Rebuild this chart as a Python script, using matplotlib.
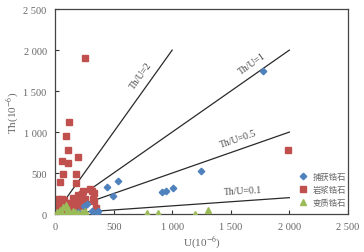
import matplotlib

matplotlib.use("Agg")
import matplotlib.pyplot as plt
from matplotlib.ticker import FuncFormatter

# 捕获锆石 (inherited zircon)
inh_u = [1779, 1245, 1009, 946, 909, 540, 441, 492, 250, 270, 313, 364, 355, 200, 150]
inh_th = [1740, 520, 317, 277, 264, 399, 325, 223, 100, 122, 40, 35, 10, 20, 10]

# 岩浆锆石 (magmatic zircon)
mag_u = [256, 116, 1984, 94, 110, 62, 113, 193, 68, 45, 176, 183, 298, 335, 335,
         350, 241, 313, 327, 227, 185, 156, 28, 57, 14, 128, 213, 256, 241, 71,
         30, 50, 80, 100, 130, 150, 170, 200, 210, 230, 180, 100, 60, 250, 140, 190]
mag_th = [1899, 1118, 780, 955, 780, 650, 622, 691, 488, 390, 488, 380, 305, 256, 162,
          73, 284, 284, 183, 244, 191, 143, 183, 143, 122, 82, 143, 183, 101, 20,
          60, 100, 170, 140, 90, 190, 150, 230, 120, 250, 60, 50, 180, 170, 40, 100]

# 变质锆石 (metamorphic zircon)
met_u = [1191, 1304, 782, 881, 20, 45, 70, 91, 110, 128, 150, 170, 200, 227, 256, 60, 100]
met_th = [5, 55, 10, 12, 30, 45, 80, 110, 60, 10, 35, 30, 15, 25, 40, 10, 20]

ratios = [2, 1, 0.5, 0.1]
ratio_u_end = [1000, 2000, 2000, 2000]
ratio_labels = ["Th/U=2", "Th/U=1", "Th/U=0.5", "Th/U=0.1"]
label_u = [730, 1680, 1560, 1600]
label_th = [1700, 1840, 920, 285]
label_rot = [54, 35, 19, 3]

legend_names = ["捕获锆石", "岩浆锆石", "变质锆石"]

plt.rcParams["font.family"] = ["Liberation Serif", "DejaVu Serif"]
plt.rcParams["mathtext.fontset"] = "stix"

fig = plt.figure(figsize=(3.64, 2.53), dpi=100)
ax = fig.add_axes([0.151, 0.150, 0.805, 0.810])

grey = "#666666"
for r, u_end in zip(ratios, ratio_u_end):
    ax.plot([0, u_end], [0, r * u_end], color="#2a2a2a", linewidth=0.9, zorder=1)

for text, u, th, rot in zip(ratio_labels, label_u, label_th, label_rot):
    ax.text(u, th, text, fontsize=7, color="#444444", rotation=rot,
            rotation_mode="anchor", ha="center", va="center")

ax.plot(inh_u, inh_th, "D", color="#4F81BD", markersize=3.3, linestyle="none",
        label=legend_names[0], zorder=3)
ax.plot(mag_u, mag_th, "s", color="#C0504D", markersize=3.9, linestyle="none",
        label=legend_names[1], zorder=2)
ax.plot(met_u, met_th, "^", color="#9BBB59", markersize=4.7, linestyle="none",
        label=legend_names[2], zorder=4)

ax.set_xlim(0, 2500)
ax.set_ylim(0, 2500)
ax.set_xticks(range(0, 2501, 500))
ax.set_yticks(range(0, 2501, 500))
fmt = FuncFormatter(lambda v, _: f"{v:,.0f}".replace(",", " "))
ax.xaxis.set_major_formatter(fmt)
ax.yaxis.set_major_formatter(fmt)
ax.tick_params(direction="in", length=3, width=0.8, colors="#333333",
               labelcolor=grey, labelsize=7.5, pad=6)
for spine in ax.spines.values():
    spine.set_color("#444444")
    spine.set_linewidth(0.9)

ax.set_xlabel(r"U(10$^{-6}$)", fontsize=8, color=grey, labelpad=2)
ax.set_ylabel(r"Th(10$^{-6}$)", fontsize=8, color=grey, labelpad=2)

leg = ax.legend(loc="center left", bbox_to_anchor=(0.822, 0.12), frameon=False,
                borderpad=0, handlelength=0.8, handletextpad=0.7, labelspacing=0.45,
                prop={"family": ["Noto Sans CJK SC", "DejaVu Sans"], "size": 6})
for t in leg.get_texts():
    t.set_color(grey)

fig.savefig("out.png", dpi=100)
